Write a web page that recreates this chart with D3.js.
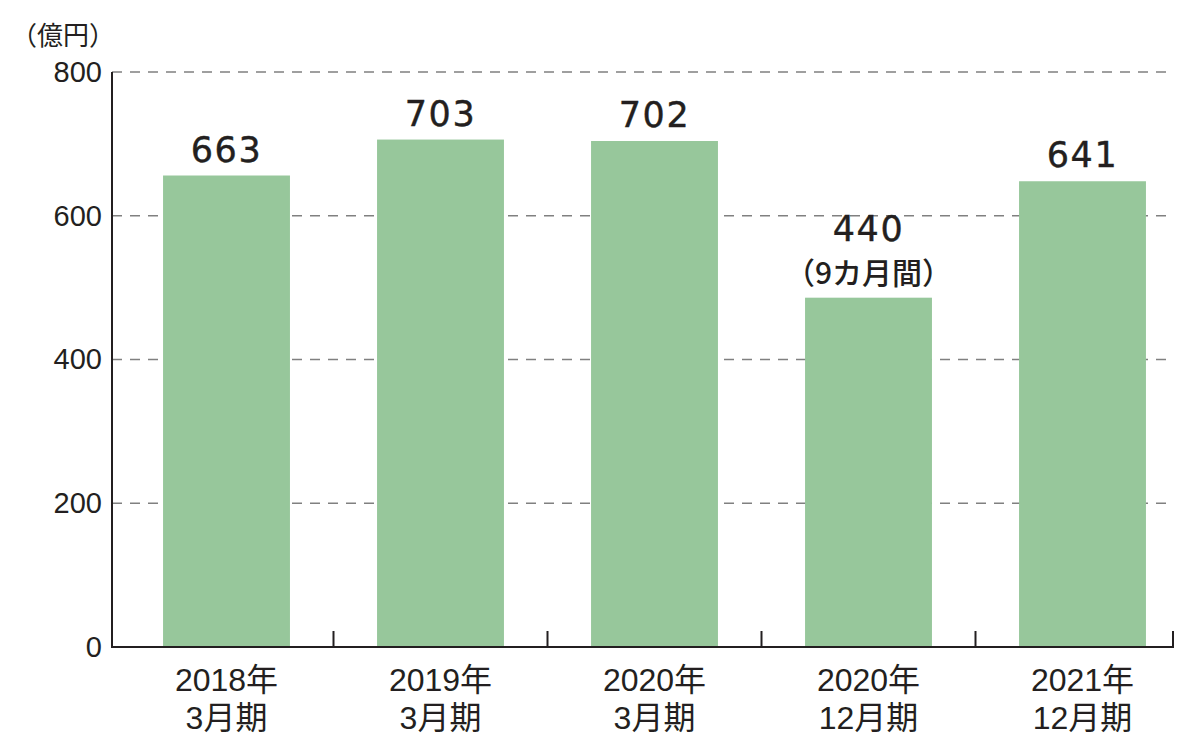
<!DOCTYPE html>
<html><head><meta charset="utf-8">
<script src="https://cdn.jsdelivr.net/npm/d3@7"></script>
<style>
html,body{margin:0;padding:0;background:#fff;}
svg{display:block;}
</style></head>
<body>
<svg id="chart" width="1200" height="747"></svg>
<script>
const categoriesLine1 = ["2018年", "2019年", "2020年", "2020年", "2021年"];
const categoriesLine2 = ["3月期", "3月期", "3月期", "12月期", "12月期"];
const barValues = [656, 706, 704, 486, 648];
const valueLabels = ["663", "703", "702", "440", "641"];
const valueNotes = ["", "", "", "（9カ月間）", ""];
const yTicks = [0, 200, 400, 600, 800];
const unitLabel = "（億円）";

const svg = d3.select("#chart");
const ink = "#231f20";
const latin = "'Liberation Sans', Arial, 'Noto Sans CJK JP', sans-serif";
const cjk = "'Noto Sans CJK JP', sans-serif";

const axisLeft = 112, axisRight = 1173;
const y = d3.scaleLinear().domain([0, 800]).range([647, 72]);
const x = d3.scaleBand().domain(d3.range(categoriesLine1.length))
  .range([119.5, 1189.5]).paddingInner(0.407).paddingOuter(0.2035);

// gridlines
svg.append("g").selectAll("line").data(yTicks.filter(d => d > 0)).join("line")
  .attr("x1", axisLeft).attr("x2", axisRight)
  .attr("y1", d => y(d)).attr("y2", d => y(d))
  .attr("stroke", "#808080").attr("stroke-width", 1.5)
  .attr("stroke-dasharray", "10,8");

// bars
svg.append("g").selectAll("rect").data(barValues).join("rect")
  .attr("x", (d, i) => x(i)).attr("width", x.bandwidth())
  .attr("y", d => y(d)).attr("height", d => y(0) - y(d))
  .attr("fill", "#97c79b");

// y axis
svg.append("line").attr("x1", axisLeft).attr("x2", axisLeft)
  .attr("y1", y(800)).attr("y2", y(0) + 1).attr("stroke", ink).attr("stroke-width", 2);
svg.append("g").selectAll("text").data(yTicks).join("text")
  .attr("x", 102).attr("y", d => y(d)).attr("dy", "0.34em")
  .attr("text-anchor", "end").attr("font-family", latin).attr("font-size", 29)
  .attr("fill", ink).text(d => d);

// x axis
svg.append("line").attr("x1", axisLeft - 1).attr("x2", axisRight + 1)
  .attr("y1", y(0)).attr("y2", y(0)).attr("stroke", ink).attr("stroke-width", 2);
const tickXs = d3.range(1, categoriesLine1.length).map(i => x(i) - x.step() * x.paddingInner() / 2).concat([axisRight]);
svg.append("g").selectAll("line").data(tickXs).join("line")
  .attr("x1", d => d).attr("x2", d => d)
  .attr("y1", y(0)).attr("y2", y(0) - 16)
  .attr("stroke", ink).attr("stroke-width", 2);

const xl = svg.append("g").selectAll("g").data(categoriesLine1).join("g");
xl.append("text").attr("x", (d, i) => x(i) + x.bandwidth() / 2).attr("y", 691)
  .attr("text-anchor", "middle").attr("font-family", latin).attr("font-size", 32)
  .attr("fill", ink).text(d => d);
xl.append("text").attr("x", (d, i) => x(i) + x.bandwidth() / 2).attr("y", 729)
  .attr("text-anchor", "middle").attr("font-family", latin).attr("font-size", 32)
  .attr("fill", ink).text((d, i) => categoriesLine2[i]);

// value labels
const vl = svg.append("g").selectAll("g").data(barValues).join("g");
vl.append("text")
  .attr("x", (d, i) => x(i) + x.bandwidth() / 2)
  .attr("y", (d, i) => y(d) - (valueNotes[i] ? 57 : 14))
  .attr("text-anchor", "middle").attr("font-family", "'DejaVu Sans', sans-serif")
  .attr("font-size", 35).attr("letter-spacing", 1.5).attr("fill", ink)
  .attr("stroke", ink).attr("stroke-width", 0.4)
  .text((d, i) => valueLabels[i]);
vl.filter((d, i) => valueNotes[i]).append("text")
  .attr("x", d => x(barValues.indexOf(d)) + x.bandwidth() / 2)
  .attr("y", d => y(d) - 14)
  .attr("text-anchor", "middle").attr("font-family", cjk).attr("font-weight", 500)
  .attr("font-size", 30).attr("fill", ink)
  .text(d => valueNotes[barValues.indexOf(d)]);

// unit label
svg.append("text").attr("x", 63).attr("y", 45).attr("text-anchor", "middle")
  .attr("font-family", cjk).attr("font-size", 26).attr("fill", ink).text(unitLabel);
</script>
</body></html>
